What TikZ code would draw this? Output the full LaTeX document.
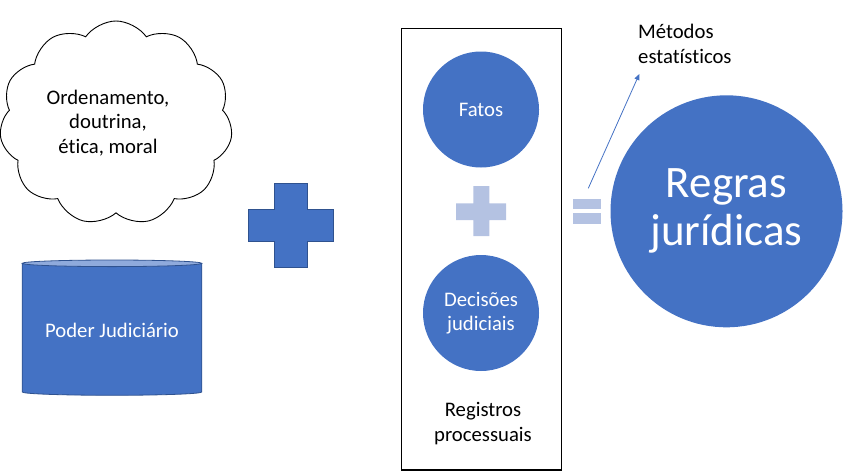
\documentclass[tikz,border=0pt]{standalone}
\usepackage{fontspec}
\setmainfont{Carlito}[Ligatures=NoCommon]
\usetikzlibrary{shapes.symbols, arrows.meta}
\definecolor{mblue}{HTML}{4472C4}
\definecolor{bdblue}{HTML}{2F528F}
\definecolor{lblue}{HTML}{B4C2E2}
\definecolor{topblue}{HTML}{8FAADC}
\begin{document}
\begin{tikzpicture}[x=1pt,y=-1pt,
  txt/.style={font=\fontsize{20.7}{24.5}\selectfont, align=center, inner sep=0},
  circ/.style={circle, fill=mblue, text=white, inner sep=0, minimum size=116pt, font=\fontsize{20.7}{23.5}\selectfont, align=center},
  bigcirc/.style={circle, fill=mblue, text=white, inner sep=0, minimum size=232pt, font=\fontsize{45}{48}\selectfont, align=center},
  bigplus/.style={fill=mblue, draw=bdblue, line width=1pt},
  lightshape/.style={fill=lblue},
  framebox/.style={draw=black, line width=1.2pt},
  arr/.style={-{Triangle[length=6pt,width=5pt]}, draw=mblue, line width=0.8pt}]
\useasboundingbox (0,0) rectangle (854,474);

% cloud
\node[cloud, draw=black, line width=0.9pt, cloud puffs=11, cloud puff arc=110, aspect=1.15,
  minimum width=233pt, minimum height=204pt, inner sep=0] (cl) at (116,123) {};
\node[txt] (cltxt) at (108,123) {Ordenamento,\\doutrina,\\ética, moral};

% cylinder
\fill[mblue] (22.3,263.3) rectangle (201.7,392);
\fill[mblue] (112,392) ellipse [x radius=89.7, y radius=3.3];
\draw[bdblue, line width=0.8pt] (22.3,263.3) -- (22.3,392) arc[start angle=180, end angle=0, x radius=89.7, y radius=3.3] -- (201.7,263.3);
\filldraw[fill=topblue, draw=bdblue, line width=0.8pt] (112,263.3) ellipse [x radius=89.7, y radius=3.3];
\node[txt, text=white] (pj) at (112,330) {Poder Judiciário};

% big plus
\draw[bigplus] (274.3,183.3) -- (307.7,183.3) -- (307.7,209.3) -- (333.3,209.3) -- (333.3,241.3) -- (307.7,241.3) -- (307.7,267.3) -- (274.3,267.3) -- (274.3,241.3) -- (248.3,241.3) -- (248.3,209.3) -- (274.3,209.3) -- cycle;

% frame
\draw[framebox] (401.7,28.3) rectangle (561.7,470);
\node[circ] (fatos) at (481,109.5) {Fatos};
\node[circ] (dec) at (481,313) {Decisões\\judiciais};
\fill[lightshape] (473.3,186) -- (489.3,186) -- (489.3,203.3) -- (506,203.3) -- (506,220) -- (489.3,220) -- (489.3,236) -- (473.3,236) -- (473.3,220) -- (456,220) -- (456,203.3) -- (473.3,203.3) -- cycle;
\node[txt, font=\fontsize{20.7}{25}\selectfont] (reg) at (483,424) {Registros\\processuais};

% equals
\fill[lightshape] (573.3,199.3) rectangle (601,209.3);
\fill[lightshape] (573.3,213.3) rectangle (601,224);

% result
\node[bigcirc] (regras) at (726.5,211.3) {Regras\\jurídicas};
\node[txt, align=left, anchor=west] (met) at (638,44) {Métodos\\estatísticos};
\coordinate (a0) at (588.3,188.3);
\coordinate (a1) at (639.3,74);
\draw[arr] (a0) -- (a1);
\end{tikzpicture}
\end{document}
